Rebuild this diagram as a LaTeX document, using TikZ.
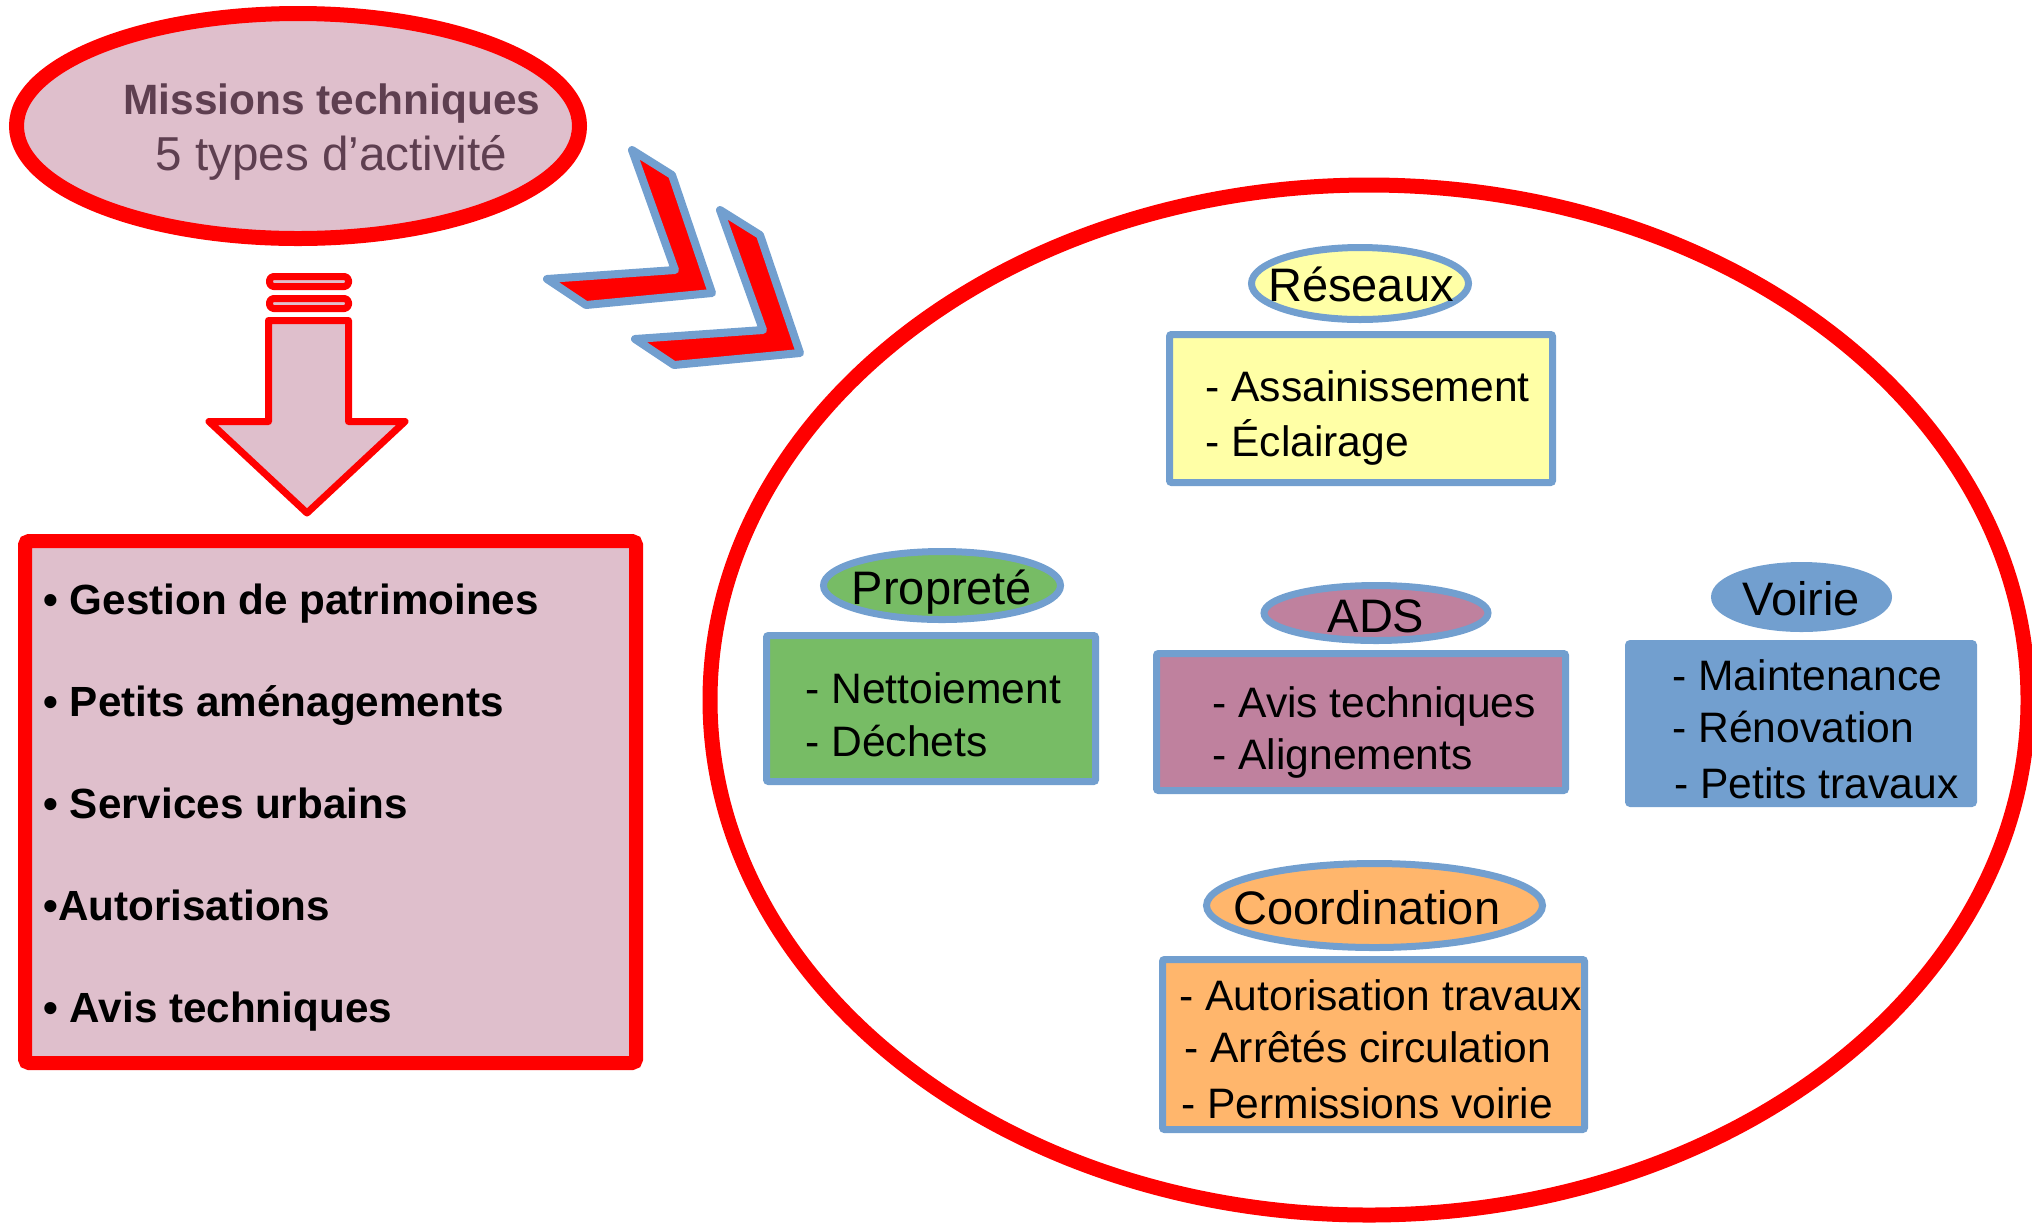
\documentclass[tikz,border=0pt]{standalone}
\usepackage{fontspec}
\setmainfont{Liberation Sans}
\usetikzlibrary{shapes.geometric}
\definecolor{redc}{HTML}{FF0000}
\definecolor{pinkfill}{HTML}{DFBFCC}
\definecolor{bluec}{HTML}{729FCF}
\definecolor{yellowc}{HTML}{FFFFA6}
\definecolor{greenc}{HTML}{77BC65}
\definecolor{mauvec}{HTML}{BF819E}
\definecolor{orangec}{HTML}{FFB66C}
\definecolor{plum}{HTML}{5E3F50}
\begin{document}
\begin{tikzpicture}[x=0.5pt,y=-0.5pt,
  tag/.style={ellipse, draw=bluec, line width=3.5pt, inner sep=0pt},
  title/.style={inner sep=0pt, text height=16.8pt, text depth=0pt, font=\fontsize{23.5pt}{28pt}\selectfont},
  panel/.style={rectangle, draw=bluec, line width=3.5pt, rounded corners=1pt, inner sep=0pt},
  item/.style={anchor=west, inner sep=0pt, text height=15.25pt, text depth=0pt, font=\fontsize{21.3pt}{25pt}\selectfont},
  bitem/.style={anchor=west, inner sep=0pt, text height=15.1pt, text depth=0pt, font=\fontsize{21.1pt}{25pt}\selectfont\bfseries},
  chev/.style={draw=bluec, fill=redc, line width=4pt, line join=round},
  arrowpart/.style={draw=redc, fill=pinkfill, line width=3.5pt, line join=round},
]
\useasboundingbox (0,0) rectangle (2032,1222);

% big ellipse
\node[ellipse, draw=redc, line width=7.5pt, inner sep=0pt, minimum width=659pt, minimum height=515pt] (big) at (1369,700) {};

% top ellipse
\node[ellipse, draw=redc, fill=pinkfill, line width=7.5pt, inner sep=0pt, minimum width=281.5pt, minimum height=112.5pt] (mission) at (298,126) {};
\node[anchor=west, inner sep=0pt, text height=15pt, text depth=0pt, text=plum, font=\fontsize{21.2pt}{25pt}\selectfont\bfseries] (mt1) at (123,99) {Missions techniques};
\node[anchor=west, inner sep=0pt, text height=17pt, text depth=0pt, text=plum, font=\fontsize{23.8pt}{28pt}\selectfont] (mt2) at (155,153) {5 types d’activité};

% down arrow
\draw[arrowpart, rounded corners=2pt] (269.5,276.5) rectangle (348.5,286.5);
\draw[arrowpart, rounded corners=2pt] (269.5,298.5) rectangle (348.5,308.5);
\draw[arrowpart] (268.5,320.5) -- (348.5,320.5) -- (348.5,421.5) -- (405,421.5) -- (307,513) -- (209,421.5) -- (268.5,421.5) -- cycle;

% left box
\node[rectangle, draw=redc, fill=pinkfill, line width=7pt, rounded corners=2pt, inner sep=0pt, minimum width=305.5pt, minimum height=261pt] (list) at (330.5,802) {};
\node[bitem] (l1) at (43,599) {• Gestion de patrimoines};
\node[bitem] (l2) at (43,701) {• Petits aménagements};
\node[bitem] (l3) at (43,803) {• Services urbains};
\node[bitem] (l4) at (43,905) {•Autorisations};
\node[bitem] (l5) at (43,1007) {• Avis techniques};

% chevrons
\draw[chev] (632,150) -- (672,175) -- (712,293) -- (586,305) -- (547,279) -- (675,270) -- cycle;
\draw[chev] (720,210) -- (760,235) -- (800,353) -- (674,365) -- (635,339) -- (763,330) -- cycle;

% Réseaux
\node[tag, fill=yellowc, minimum width=108.5pt, minimum height=36pt] (res) at (1360,283.5) {};
\node[title] (rest) at (1361,285) {Réseaux};
\node[panel, fill=yellowc, minimum width=191.5pt, minimum height=74pt] (resbox) at (1361,408.5) {};
\node[item] (r1) at (1205,386) {- Assainissement};
\node[item] (r2) at (1205,441) {- Éclairage};

% Propreté
\node[tag, fill=greenc, minimum width=118.5pt, minimum height=34pt] (pro) at (942,585.5) {};
\node[title] (prot) at (942,588) {Propreté};
\node[panel, fill=greenc, minimum width=164.5pt, minimum height=73pt] (probox) at (931,708.5) {};
\node[item] (p1) at (805,688) {- Nettoiement};
\node[item] (p2) at (805,741) {- Déchets};

% ADS
\node[tag, fill=mauvec, minimum width=112pt, minimum height=27.5pt] (ads) at (1376,613) {};
\node[title] (adst) at (1376,616) {ADS};
\node[panel, fill=mauvec, minimum width=204.5pt, minimum height=68.5pt] (adsbox) at (1361,722) {};
\node[item] (a1) at (1212,702) {- Avis techniques};
\node[item] (a2) at (1212,754) {- Alignements};

% Voirie
\node[tag, fill=bluec, minimum width=87pt, minimum height=31.5pt] (voi) at (1801.5,597) {};
\node[title] (voit) at (1801,599) {Voirie};
\node[panel, fill=bluec, minimum width=172.5pt, minimum height=80pt] (voibox) at (1801,723.5) {};
\node[item] (v1) at (1672,675) {- Maintenance};
\node[item] (v2) at (1672,727) {- Rénovation};
\node[item] (v3) at (1674,783) {- Petits travaux};

% Coordination
\node[tag, fill=orangec, minimum width=168pt, minimum height=42pt] (coo) at (1374.5,905.5) {};
\node[title] (coot) at (1367,908) {Coordination};
\node[panel, fill=orangec, minimum width=211pt, minimum height=85pt] (coobox) at (1373.5,1044.5) {};
\node[item] (c1) at (1179,995) {- Autorisation travaux};
\node[item] (c2) at (1184,1047) {- Arrêtés circulation};
\node[item] (c3) at (1181,1103) {- Permissions voirie};
\end{tikzpicture}
\end{document}
